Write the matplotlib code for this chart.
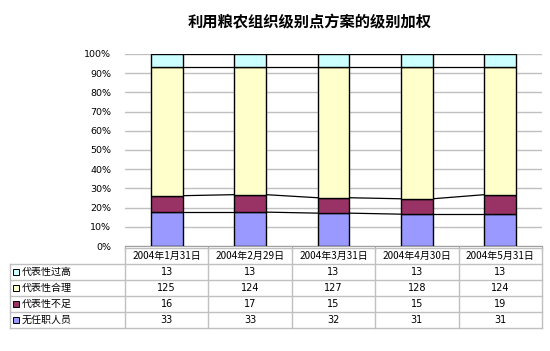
import numpy as np
import matplotlib.pyplot as plt
from matplotlib.patches import Rectangle

plt.rcParams['font.family'] = ['Noto Sans CJK SC', 'DejaVu Sans']

title = "利用粮农组织级别点方案的级别加权"
dates = ["2004年1月31日", "2004年2月29日", "2004年3月31日", "2004年4月30日", "2004年5月31日"]
# 从底到顶
series_names = ["无任职人员", "代表性不足", "代表性合理", "代表性过高"]
no_staff = [33, 33, 32, 31, 31]
under = [16, 17, 15, 15, 19]
fair = [125, 124, 127, 128, 124]
over = [13, 13, 13, 13, 13]
colors = ["#9999FF", "#993366", "#FFFFCC", "#CCFFFF"]

W, H = 550, 351
fig = plt.figure(figsize=(W / 100, H / 100), dpi=100)

# 主图位置 (像素)
left, right, top, bottom = 125, 542, 54, 246
ax = fig.add_axes([left / W, 1 - bottom / H, (right - left) / W, (bottom - top) / H])

data = np.array([no_staff, under, fair, over], dtype=float)
frac = data / data.sum(axis=0)
x = np.arange(len(dates))
bw = 0.38
base = np.zeros(len(dates))
for vals, c in zip(frac, colors):
    ax.bar(x, vals, bw, bottom=base, color=c, edgecolor="black", linewidth=1, zorder=3)
    base = base + vals
    # 系列线
    for i in range(len(dates) - 1):
        ax.plot([x[i] + bw / 2, x[i + 1] - bw / 2], [base[i], base[i + 1]],
                color="black", linewidth=0.9, zorder=3)

ax.set_xlim(-0.5, len(dates) - 0.5)
ax.set_ylim(0, 1)
ax.set_yticks(np.arange(0, 1.01, 0.1))
ax.set_yticklabels([f"{int(round(v * 100))}%" for v in np.arange(0, 1.01, 0.1)], fontsize=6.8,
                   family=["DejaVu Sans"])
ax.yaxis.grid(True, color="#c0c0c0", linewidth=1)
ax.set_axisbelow(True)
ax.tick_params(axis="y", length=0, pad=10)
ax.set_xticks(np.arange(-0.5, len(dates), 1.0))
ax.set_xticklabels([])
ax.tick_params(axis="x", length=4, color="#a0a0a0", direction="out")
for s in ["left", "right", "top"]:
    ax.spines[s].set_visible(False)
ax.spines["bottom"].set_color("#a0a0a0")

fig.text(310 / W, 1 - 22 / H, title, ha="center", va="center", fontsize=11, fontweight="bold")

# 数据表
tab = fig.add_axes([0, 0, 1, 1])
tab.set_xlim(0, W)
tab.set_ylim(H, 0)
tab.axis("off")
gc = "#c0c0c0"
colw = (right - left) / len(dates)
rh = 16
hy = 248
rows = [over, fair, under, no_staff]
row_names = series_names[::-1]
row_colors = colors[::-1]
# 横线
tab.plot([left, right], [hy, hy], color=gc, lw=1)
for k in range(len(rows) + 1):
    tab.plot([10, right], [hy + rh * (k + 1)] * 2, color=gc, lw=1)
# 竖线
tab.plot([10, 10], [hy + rh, hy + rh * 5], color=gc, lw=1)
for j in range(len(dates) + 1):
    tab.plot([left + j * colw] * 2, [hy, hy + rh * 5], color=gc, lw=1)
for j, d in enumerate(dates):
    tab.text(left + (j + 0.5) * colw, hy + rh / 2, d, ha="center", va="center", fontsize=7.2)
for k, (name, vals, c) in enumerate(zip(row_names, rows, row_colors)):
    yc = hy + rh * (k + 1.5)
    tab.add_patch(Rectangle((13, yc - 3), 6, 6, facecolor=c, edgecolor="black", lw=0.7))
    tab.text(22, yc, name, ha="left", va="center", fontsize=7.2)
    for j, v in enumerate(vals):
        tab.text(left + (j + 0.5) * colw, yc, str(v), ha="center", va="center", fontsize=7,
                 family=["DejaVu Sans"])

fig.savefig("out.png", dpi=100)
